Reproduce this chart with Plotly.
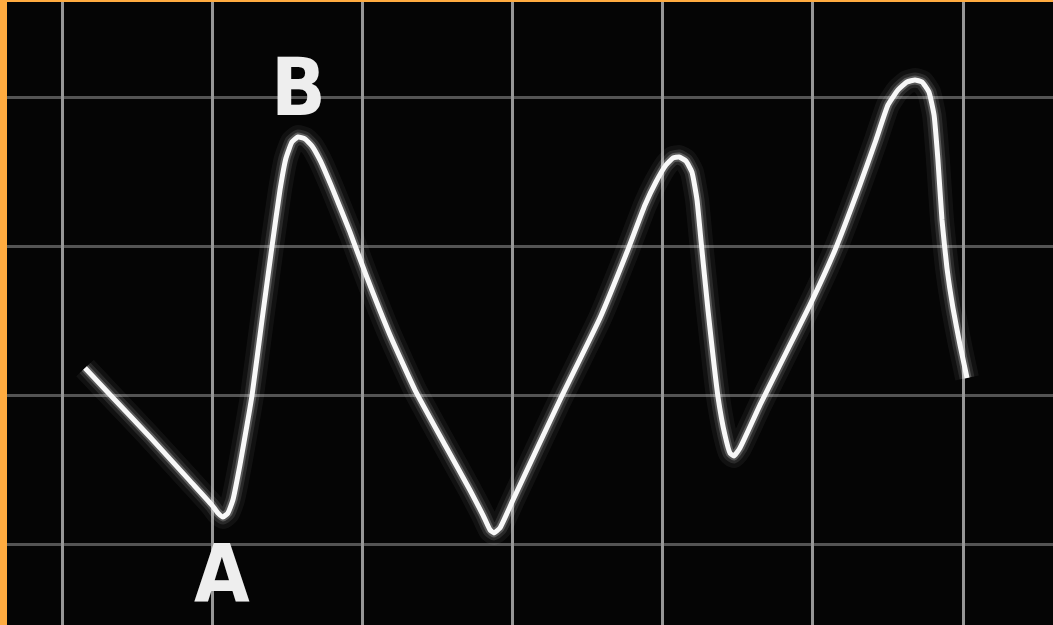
import plotly.graph_objects as go

# trace points (grid units: one division = 1)
x_vals = [0.147, 0.347, 0.58, 0.847, 0.993, 1.033, 1.067, 1.1, 1.133, 1.18, 1.227, 1.26, 1.327, 1.393,
          1.447, 1.487, 1.527, 1.567, 1.613, 1.66, 1.713, 1.8, 1.913, 2.02, 2.18, 2.347, 2.547, 2.713,
          2.8, 2.847, 2.873, 2.913, 3.0, 3.313, 3.58, 3.76, 3.88, 3.953, 4.02, 4.067, 4.107, 4.153,
          4.193, 4.227, 4.253, 4.3, 4.367, 4.413, 4.447, 4.473, 4.513, 4.647, 4.813, 4.98, 5.147, 5.313,
          5.42, 5.5, 5.567, 5.627, 5.68, 5.727, 5.773, 5.807, 5.833, 5.86, 5.893, 5.933, 5.98, 6.027]
y_vals = [1.188, 0.973, 0.725, 0.43, 0.268, 0.215, 0.188, 0.215, 0.302, 0.537, 0.805, 1.0, 1.51, 2.0,
          2.383, 2.597, 2.705, 2.738, 2.725, 2.678, 2.584, 2.383, 2.101, 1.812, 1.409, 1.04, 0.671, 0.369,
          0.201, 0.101, 0.081, 0.114, 0.302, 0.973, 1.523, 1.966, 2.282, 2.436, 2.55, 2.597, 2.604, 2.577,
          2.503, 2.315, 2.047, 1.577, 0.993, 0.738, 0.617, 0.597, 0.651, 0.94, 1.275, 1.611, 1.98, 2.416,
          2.718, 2.953, 3.054, 3.107, 3.121, 3.107, 3.04, 2.886, 2.584, 2.181, 1.859, 1.591, 1.342, 1.121]

label_text = ["A", "B"]
label_x = [1.06, 1.567]
label_y = [-0.2, 3.07]

fig = go.Figure()

glow = [(24, "rgba(255,255,255,0.05)"), (15, "rgba(255,255,255,0.10)"), (9, "rgba(255,255,255,0.22)")]
for w, c in glow:
    fig.add_trace(go.Scatter(x=x_vals, y=y_vals, mode="lines",
                             line=dict(color=c, width=w, shape="spline", smoothing=0.4),
                             hoverinfo="skip", showlegend=False))
fig.add_trace(go.Scatter(x=x_vals, y=y_vals, mode="lines",
                         line=dict(color="#f8f8f8", width=5, shape="spline", smoothing=0.4),
                         showlegend=False))

for t, lx, ly in zip(label_text, label_x, label_y):
    fig.add_annotation(x=lx, y=ly, text=t, showarrow=False,
                       font=dict(family="Liberation Sans Narrow, DejaVu Sans Condensed, sans-serif",
                                 size=80, color="#eeeeee", weight="bold"))

fig.update_layout(
    width=1053, height=625,
    margin=dict(l=7, r=0, t=2, b=0),
    paper_bgcolor="#ffab40",
    plot_bgcolor="#050505",
    showlegend=False,
    xaxis=dict(range=[-0.373, 6.6], tick0=0, dtick=1, showgrid=True,
               gridcolor="rgba(200,200,200,0.75)", gridwidth=3,
               zeroline=False, showticklabels=False, ticks="", fixedrange=True),
    yaxis=dict(range=[-0.537, 3.644], tick0=0, dtick=1, showgrid=True,
               gridcolor="rgba(150,150,150,0.55)", gridwidth=3,
               zeroline=False, showticklabels=False, ticks="", fixedrange=True),
)

fig.write_html("out.html", config={"displayModeBar": False},
               post_script="document.body.style.margin='0';document.body.style.overflow='hidden';")
